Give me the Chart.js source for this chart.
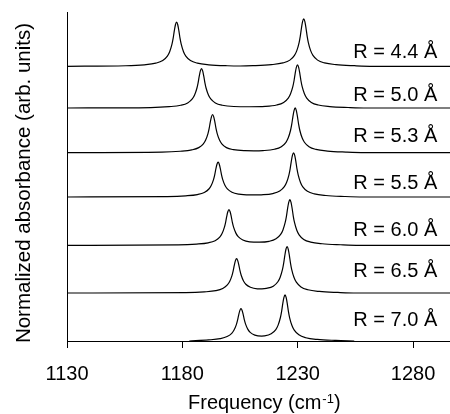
<!DOCTYPE html>
<html><head><meta charset="utf-8">
<script src="https://cdn.jsdelivr.net/npm/chart.js@4.4.1/dist/chart.umd.min.js"></script>
<style>html,body{margin:0;padding:0;background:#fff;}#wrap{width:450px;height:414px;}</style>
</head><body><div id="wrap"><canvas id="c" width="450" height="414"></canvas></div>
<script>
// Series names (R distance)
const seriesLabels = ['R = 4.4 Å', 'R = 5.0 Å', 'R = 5.3 Å', 'R = 5.5 Å', 'R = 6.0 Å', 'R = 6.5 Å', 'R = 7.0 Å'];
// Vertical offsets of each stacked spectrum (arb. units)
const offsets = [5.845, 4.957, 4.009, 3.064, 2.036, 1.021, 0];
// X tick labels
const xTicks = [1130, 1180, 1230, 1280];

// Spectra: frequency (cm-1) and normalized absorbance
const freq44 = [1130,1155.5,1163.5,1168.5,1171.5,1173.5,1174.5,1175.5,1176,1176.5,1177,1177.5,1178,1178.5,1179,1179.5,1180.5,1181.5,1183.5,1186.5,1191.5,1199.5,1205,1210.6,1218.6,1223.6,1226.6,1228.6,1229.6,1230.6,1231.1,1231.6,1232.1,1232.6,1233.1,1233.6,1234.1,1234.6,1235.6,1236.6,1238.6,1241.6,1246.6,1254.6,1262.6,1296];
const abs44  = [0,0.011,0.032,0.066,0.122,0.216,0.31,0.47,0.592,0.752,0.884,0.94,0.884,0.752,0.592,0.47,0.31,0.216,0.122,0.066,0.032,0.011,0.006,0.012,0.034,0.071,0.131,0.232,0.333,0.505,0.636,0.808,0.949,1.01,0.949,0.808,0.636,0.505,0.333,0.232,0.131,0.071,0.034,0.012,0,0];

const freq50 = [1130,1166.3,1174.3,1179.3,1182.3,1184.3,1185.3,1186.3,1186.8,1187.3,1187.8,1188.3,1188.8,1189.3,1189.8,1190.3,1191.3,1192.3,1194.3,1197.3,1202.3,1209.1,1215.9,1220.9,1223.9,1225.9,1226.9,1227.9,1228.4,1228.9,1229.4,1229.9,1230.4,1230.9,1231.4,1231.9,1232.9,1233.9,1235.9,1238.9,1243.9,1251.9,1259.9,1296];
const abs50  = [0,0.01,0.029,0.059,0.109,0.193,0.277,0.42,0.529,0.672,0.79,0.84,0.79,0.672,0.529,0.42,0.277,0.193,0.109,0.059,0.032,0.027,0.034,0.064,0.12,0.212,0.304,0.46,0.58,0.736,0.865,0.92,0.865,0.736,0.58,0.46,0.304,0.212,0.12,0.064,0.031,0.011,0,0];

const freq53 = [1130,1171.1,1179.1,1184.1,1187.1,1189.1,1190.1,1191.1,1191.6,1192.1,1192.6,1193.1,1193.6,1194.1,1194.6,1195.1,1196.1,1197.1,1199.1,1202.1,1207.1,1211,1214.9,1219.9,1222.9,1224.9,1225.9,1226.9,1227.4,1227.9,1228.4,1228.9,1229.4,1229.9,1230.4,1230.9,1231.9,1232.9,1234.9,1237.9,1242.9,1250.9,1258.9,1296];
const abs53  = [0,0.01,0.028,0.057,0.105,0.186,0.267,0.405,0.51,0.648,0.761,0.81,0.761,0.648,0.51,0.405,0.267,0.186,0.105,0.062,0.04,0.037,0.042,0.071,0.126,0.219,0.314,0.475,0.599,0.76,0.893,0.95,0.893,0.76,0.599,0.475,0.314,0.219,0.124,0.067,0.032,0.011,0,0];

const freq55 = [1130,1173.5,1181.5,1186.5,1189.5,1191.5,1192.5,1193.5,1194,1194.5,1195,1195.5,1196,1196.5,1197,1197.5,1198.5,1199.5,1201.5,1204.5,1209.5,1212.2,1214.2,1219.2,1222.2,1224.2,1225.2,1226.2,1226.7,1227.2,1227.7,1228.2,1228.7,1229.2,1229.7,1230.2,1231.2,1232.2,1234.2,1237.2,1242.2,1250.2,1258.2,1296];
const abs55  = [0,0.009,0.025,0.052,0.096,0.17,0.244,0.37,0.466,0.592,0.696,0.74,0.696,0.592,0.466,0.37,0.244,0.172,0.101,0.061,0.044,0.043,0.046,0.073,0.126,0.219,0.312,0.471,0.593,0.753,0.884,0.94,0.884,0.752,0.592,0.47,0.31,0.216,0.122,0.066,0.032,0.011,0,0];

const freq60 = [1130,1178.2,1186.2,1191.2,1194.2,1196.2,1197.2,1198.2,1198.7,1199.2,1199.7,1200.2,1200.7,1201.2,1201.7,1202.2,1203.2,1204.2,1206.2,1209.2,1213.4,1217.6,1220.6,1222.6,1223.6,1224.6,1225.1,1225.6,1226.1,1226.6,1227.1,1227.6,1228.1,1228.6,1229.6,1230.6,1232.6,1235.6,1240.6,1248.6,1256.6,1296];
const abs60  = [0,0.009,0.026,0.053,0.098,0.174,0.249,0.381,0.479,0.608,0.714,0.76,0.715,0.61,0.482,0.386,0.259,0.185,0.114,0.075,0.067,0.085,0.138,0.231,0.327,0.491,0.615,0.78,0.914,0.972,0.913,0.778,0.612,0.487,0.321,0.223,0.126,0.068,0.033,0.012,0,0];

const freq65 = [1130,1181.5,1189.5,1194.5,1197.5,1199.5,1200.5,1201.5,1202,1202.5,1203,1203.5,1204,1204.5,1205,1205.5,1206.5,1207.5,1209.5,1212.5,1214.5,1216.4,1219.4,1221.4,1222.4,1223.4,1223.9,1224.4,1224.9,1225.4,1225.9,1226.4,1226.9,1227.4,1228.4,1229.4,1231.4,1234.4,1239.4,1247.4,1255.4,1296];
const abs65  = [0,0.009,0.024,0.05,0.097,0.172,0.245,0.369,0.464,0.586,0.688,0.732,0.689,0.59,0.469,0.377,0.257,0.187,0.121,0.09,0.089,0.098,0.146,0.24,0.337,0.502,0.629,0.795,0.931,0.989,0.93,0.792,0.625,0.497,0.329,0.23,0.13,0.069,0.033,0.012,0,0];

const freq70 = [1183,1191.4,1196.4,1199.4,1201.4,1202.4,1203.4,1203.9,1204.4,1204.9,1205.4,1205.9,1206.4,1206.9,1207.4,1208.4,1209.4,1211.4,1214.4,1215.5,1218.5,1220.5,1221.5,1222.5,1223,1223.5,1224,1224.5,1225,1225.5,1226,1226.5,1227.5,1228.5,1230.5,1233.5,1238.5,1246.5,1254.5];
const abs70  = [0,0.023,0.05,0.094,0.164,0.233,0.349,0.437,0.552,0.647,0.688,0.649,0.556,0.443,0.358,0.247,0.183,0.126,0.105,0.108,0.153,0.242,0.337,0.5,0.624,0.788,0.922,0.98,0.921,0.785,0.62,0.494,0.328,0.23,0.131,0.07,0.033,0.012,0];

const spectraFreq = [freq44, freq50, freq53, freq55, freq60, freq65, freq70];
const spectraAbs  = [abs44, abs50, abs53, abs55, abs60, abs65, abs70];

const FONT = '"Liberation Sans", Arial, Helvetica, sans-serif';

const datasets = seriesLabels.map((lab, k) => ({
  label: lab,
  data: spectraFreq[k].map((f, i) => ({ x: f, y: offsets[k] + spectraAbs[k][i] })),
  borderColor: '#000',
  borderWidth: 1.2,
  pointRadius: 0,
  fill: false,
  cubicInterpolationMode: 'monotone'
}));

// label vertical placement (data units) and right edge (x value)
const labelLevel = [6.03, 5.10, 4.23, 3.24, 2.24, 1.36, 0.31];
const labelRightX = 1290.5;

const textPlugin = {
  id: 'texts',
  afterDraw(chart) {
    const ctx = chart.ctx;
    const xs = chart.scales.x, ys = chart.scales.y;
    ctx.save();
    ctx.fillStyle = '#000';
    ctx.font = '20px ' + FONT;
    ctx.textAlign = 'right';
    ctx.textBaseline = 'alphabetic';
    seriesLabels.forEach((lab, k) => {
      ctx.fillText(lab, xs.getPixelForValue(labelRightX), ys.getPixelForValue(labelLevel[k]));
    });
    // x axis title with superscript
    ctx.textAlign = 'left';
    let x = 188, y = 409;
    const main = 'Frequency (cm';
    ctx.fillText(main, x, y);
    x += ctx.measureText(main).width;
    ctx.font = '13px ' + FONT;
    ctx.fillText('-1', x + 1, y - 6);
    x += ctx.measureText('-1').width + 1;
    ctx.font = '20px ' + FONT;
    ctx.fillText(')', x, y);
    // y axis title
    ctx.translate(24, 183);
    ctx.rotate(-Math.PI / 2);
    ctx.textAlign = 'center';
    ctx.textBaseline = 'middle';
    ctx.font = '20.5px ' + FONT;
    ctx.fillText('Normalized absorbance (arb. units)', 0, 0);
    ctx.restore();
  }
};

new Chart(document.getElementById('c'), {
  type: 'line',
  data: { datasets },
  options: {
    responsive: false,
    animation: false,
    devicePixelRatio: 1,
    layout: { padding: { top: 12, right: 0, bottom: 0, left: 0 } },
    plugins: { legend: { display: false }, tooltip: { enabled: false } },
    scales: {
      x: {
        type: 'linear',
        min: 1130,
        max: 1296,
        afterBuildTicks: (s) => { s.ticks = xTicks.map(v => ({ value: v })); },
        afterFit: (s) => { s.height = 73; },
        grid: { display: true, drawOnChartArea: false, drawTicks: true, tickLength: 7, color: '#000', lineWidth: 1 },
        border: { display: true, color: '#000', width: 1 },
        ticks: { color: '#000', font: { family: FONT, size: 20 }, padding: 14, maxRotation: 0, autoSkip: false,
                 callback: (v) => String(v) }
      },
      y: {
        type: 'linear',
        min: 0,
        max: 7,
        afterFit: (s) => { s.width = 67; },
        grid: { display: false },
        border: { display: true, color: '#000', width: 1 },
        ticks: { display: false }
      }
    }
  },
  plugins: [textPlugin]
});
</script>
</body></html>
